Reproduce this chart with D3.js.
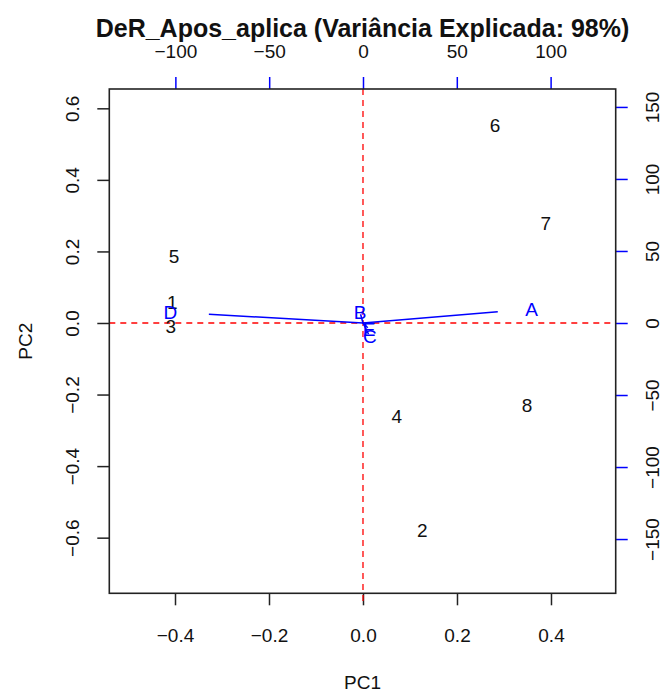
<!DOCTYPE html>
<html>
<head>
<meta charset="utf-8">
<script src="https://cdn.jsdelivr.net/npm/d3@7"></script>
<style>
    body { margin: 0; background: white; }
    text { font-family: 'Liberation Sans', Arial, sans-serif; }
</style>
</head>
<body>
<div id="biplot"></div>
<script>
// scores (observations)
let obsLabels = ['1', '2', '3', '4', '5', '6', '7', '8'];
let pc1 = [-0.406, 0.126, -0.409, 0.072, -0.402, 0.281, 0.389, 0.349];
let pc2 = [0.056, -0.579, -0.011, -0.260, 0.187, 0.553, 0.279, -0.232];

// loadings (variables)
let varLabels = ['A', 'B', 'C', 'D', 'E'];
let loadX = [89.8, -1.6, 3.7, -102.7, 3.2];
let loadY = [9.7, 7.6, -9.7, 7.6, -4.2];

let xTicks = [-0.4, -0.2, 0.0, 0.2, 0.4];
let yTicks = [-0.6, -0.4, -0.2, 0.0, 0.2, 0.4, 0.6];
let topTicks = [-100, -50, 0, 50, 100];
let rightTicks = [-150, -100, -50, 0, 50, 100, 150];

let title = 'DeR_Apos_aplica (Variância Explicada: 98%)';

let width = 663;
let height = 691;
let boxLeft = 109.3, boxRight = 615.7, boxTop = 89, boxBottom = 593.3;
let tickLen = 12;
let fontSize = 19;

let svg = d3
    .select('#biplot')
    .append('svg')
    .attr('width', width)
    .attr('height', height)
    .style('background', 'white');

let xScale = d3.scaleLinear().domain([-0.5398, 0.5377]).range([boxLeft, boxRight]);
let yScale = d3.scaleLinear().domain([-0.7555, 0.654]).range([boxBottom, boxTop]);
let xScale2 = d3.scaleLinear().domain([-0.5398 * 250.5, 0.5377 * 250.5]).range([boxLeft, boxRight]);
let yScale2 = d3.scaleLinear().domain([-0.7555 * 248.4, 0.654 * 248.4]).range([boxBottom, boxTop]);

function minus(v) {
    return String(v).replace('-', '\u2212');
}

// bottom axis
let xAxis = d3.axisBottom(xScale)
    .tickValues(xTicks)
    .tickSize(tickLen)
    .tickPadding(23)
    .tickFormat(d => minus(d3.format('.1f')(d)));
svg.append('g')
    .attr('class', 'xAxis')
    .attr('transform', `translate(0,${boxBottom})`)
    .call(xAxis);

// left axis
let yAxis = d3.axisLeft(yScale)
    .tickValues(yTicks)
    .tickSize(tickLen)
    .tickFormat(d => minus(d3.format('.1f')(d)));
let yG = svg.append('g')
    .attr('class', 'yAxis')
    .attr('transform', `translate(${boxLeft},0)`)
    .call(yAxis);
yG.selectAll('.tick text')
    .attr('x', 0)
    .attr('dy', 0)
    .attr('transform', 'translate(-37,0) rotate(-90)')
    .attr('text-anchor', 'middle')
    .attr('dominant-baseline', 'central');

// top axis
let topAxis = d3.axisTop(xScale2)
    .tickValues(topTicks)
    .tickSize(tickLen)
    .tickPadding(19)
    .tickFormat(d => minus(d));
svg.append('g')
    .attr('class', 'topAxis')
    .attr('transform', `translate(0,${boxTop})`)
    .call(topAxis);

// right axis
let rightAxis = d3.axisRight(yScale2)
    .tickValues(rightTicks)
    .tickSize(tickLen)
    .tickFormat(d => minus(d));
let rG = svg.append('g')
    .attr('class', 'rightAxis')
    .attr('transform', `translate(${boxRight},0)`)
    .call(rightAxis);
rG.selectAll('.tick text')
    .attr('x', 0)
    .attr('dy', 0)
    .attr('transform', 'translate(37,0) rotate(-90)')
    .attr('text-anchor', 'middle')
    .attr('dominant-baseline', 'central');

svg.selectAll('.domain').remove();
svg.selectAll('.tick text')
    .attr('font-size', fontSize)
    .attr('font-family', "'Liberation Sans', Arial, sans-serif")
    .attr('fill', '#111');
svg.selectAll('.xAxis line, .yAxis line')
    .attr('stroke', '#222')
    .attr('stroke-width', 1.5);
svg.selectAll('.topAxis line, .rightAxis line')
    .attr('stroke', 'blue')
    .attr('stroke-width', 1.5);

// zero lines
svg.append('line')
    .attr('x1', boxLeft).attr('x2', boxRight)
    .attr('y1', yScale(0)).attr('y2', yScale(0))
    .attr('stroke', 'red')
    .attr('stroke-width', 1.3)
    .attr('stroke-dasharray', '6,5');
svg.append('line')
    .attr('x1', xScale(0)).attr('x2', xScale(0))
    .attr('y1', boxTop).attr('y2', boxBottom + tickLen)
    .attr('stroke', 'red')
    .attr('stroke-width', 1.3)
    .attr('stroke-dasharray', '6,5');

// box
svg.append('rect')
    .attr('x', boxLeft)
    .attr('y', boxTop)
    .attr('width', boxRight - boxLeft)
    .attr('height', boxBottom - boxTop)
    .attr('fill', 'none')
    .attr('stroke', '#222')
    .attr('stroke-width', 1.6);

// observation labels
svg.selectAll('text.obs')
    .data(obsLabels)
    .enter()
    .append('text')
    .attr('class', 'obs')
    .text(d => d)
    .attr('x', (d, i) => xScale(pc1[i]))
    .attr('y', (d, i) => yScale(pc2[i]))
    .attr('text-anchor', 'middle')
    .attr('dominant-baseline', 'central')
    .attr('font-size', fontSize)
    .attr('fill', '#111');

// variable arrows (to 0.8 of loading) and labels
svg.selectAll('line.arrow')
    .data(varLabels)
    .enter()
    .append('line')
    .attr('class', 'arrow')
    .attr('x1', xScale2(0))
    .attr('y1', yScale2(0))
    .attr('x2', (d, i) => xScale2(loadX[i] * 0.8))
    .attr('y2', (d, i) => yScale2(loadY[i] * 0.8))
    .attr('stroke', 'blue')
    .attr('stroke-width', 1.5);

svg.selectAll('text.var')
    .data(varLabels)
    .enter()
    .append('text')
    .attr('class', 'var')
    .text(d => d)
    .attr('x', (d, i) => xScale2(loadX[i]))
    .attr('y', (d, i) => yScale2(loadY[i]))
    .attr('text-anchor', 'middle')
    .attr('dominant-baseline', 'central')
    .attr('font-size', fontSize)
    .attr('fill', 'blue');

// titles
svg.append('text')
    .text(title)
    .attr('x', (boxLeft + boxRight) / 2)
    .attr('y', 37)
    .attr('text-anchor', 'middle')
    .attr('font-size', 25)
    .attr('font-weight', 'bold')
    .attr('fill', '#111');

svg.append('text')
    .text('PC1')
    .attr('x', (boxLeft + boxRight) / 2)
    .attr('y', 682)
    .attr('text-anchor', 'middle')
    .attr('dominant-baseline', 'central')
    .attr('font-size', fontSize)
    .attr('fill', '#111');

svg.append('text')
    .text('PC2')
    .attr('transform', `translate(25,${(boxTop + boxBottom) / 2}) rotate(-90)`)
    .attr('text-anchor', 'middle')
    .attr('dominant-baseline', 'central')
    .attr('font-size', fontSize)
    .attr('fill', '#111');
</script>
</body>
</html>
